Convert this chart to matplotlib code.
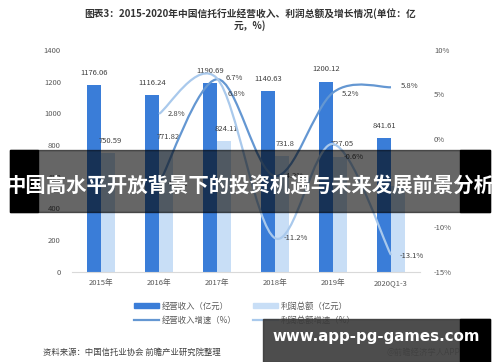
import matplotlib.pyplot as plt
import numpy as np
from matplotlib.path import Path
from matplotlib.patches import PathPatch, Rectangle
from matplotlib.lines import Line2D

plt.rcParams['font.family'] = ['Noto Sans CJK SC', 'DejaVu Sans']

years = ['2015年', '2016年', '2017年', '2018年', '2019年', '2020Q1-3']
revenue = [1176.06, 1116.24, 1190.69, 1140.63, 1200.12, 841.61]
profit = [750.59, 771.82, 824.11, 731.8, 727.05, 541.0]
rev_growth = [-5.1, 6.7, -4.2, 5.2, 5.8]
profit_growth = [2.8, 6.8, -11.2, -0.6, -13.1]

c_rev = '#3a7dd8'
c_pro = '#c8def6'
c_rev_line = '#6497d2'
c_pro_line = '#a9c9ec'
txt = '#404040'


def smooth_path(xs, ys):
    # excel-style smoothed line as bezier segments
    pts = np.column_stack([xs, ys])
    verts = [pts[0]]
    codes = [Path.MOVETO]
    n = len(pts)
    for i in range(n - 1):
        p0 = pts[i - 1] if i > 0 else pts[i]
        p1 = pts[i]
        p2 = pts[i + 1]
        p3 = pts[i + 2] if i + 2 < n else pts[i + 1]
        verts += [p1 + (p2 - p0) / 6, p2 - (p3 - p1) / 6, p2]
        codes += [Path.CURVE4] * 3
    return Path(verts, codes)


fig = plt.figure(figsize=(5, 3.62), dpi=100)
ax = fig.add_axes([0.144, 0.249, 0.696, 0.613])
ax2 = ax.twinx()

x = np.arange(len(years))
w = 0.24
ax.bar(x - w / 2, revenue, w, color=c_rev, zorder=2)
ax.bar(x + w / 2, profit, w, color=c_pro, zorder=2)
for i in range(len(years)):
    ax.annotate(f'{revenue[i]:g}', (x[i] - w / 2, revenue[i]), xytext=(0, 6),
                textcoords='offset points', ha='center', va='bottom', fontsize=5.5, color=txt)
    if i < 5:
        ax.annotate(f'{profit[i]:g}', (x[i] + w / 2, profit[i]), xytext=(2, 6),
                    textcoords='offset points', ha='center', va='bottom', fontsize=5.5, color=txt)

ax.set_xlim(-0.5, len(years) - 0.5)
ax.set_ylim(0, 1400)
ax.set_yticks(range(0, 1401, 200))
ax.set_xticks(x)
ax.set_xticklabels(years)
ax2.set_ylim(-15, 10)
ax2.set_yticks([-15, -10, -5, 0, 5, 10])
ax2.set_yticklabels([f'{v}%' for v in [-15, -10, -5, 0, 5, 10]])

gx = x[1:]
ax2.add_patch(PathPatch(smooth_path(gx, rev_growth), fill=False, ec=c_rev_line, lw=1.6, zorder=3))
ax2.add_patch(PathPatch(smooth_path(gx, profit_growth), fill=False, ec=c_pro_line, lw=1.6, zorder=3))

rev_off = [(6, 0), (6, 1), (6, 0), (6, -1), (7, 1)]
pro_off = [(6, 0), (8, -11), (6, 0), (8, -9), (6, -1)]
for i in range(5):
    ax2.annotate(f'{rev_growth[i]}%', (gx[i], rev_growth[i]), xytext=rev_off[i],
                 textcoords='offset points', ha='left', va='center', fontsize=5.5, color=txt)
    ax2.annotate(f'{profit_growth[i]}%', (gx[i], profit_growth[i]), xytext=pro_off[i],
                 textcoords='offset points', ha='left', va='center', fontsize=5.5, color=txt)

for a in (ax, ax2):
    for s in a.spines.values():
        s.set_visible(False)
    a.tick_params(length=0, labelsize=5.5, labelcolor='#595959')
ax.spines['bottom'].set_visible(True)
ax.spines['bottom'].set_color('#d9d9d9')
ax.tick_params(axis='y', pad=8)
ax.tick_params(axis='x', pad=5)
ax2.tick_params(axis='y', pad=10)

fig.text(0.5, 0.962, '图表3：2015-2020年中国信托行业经营收入、利润总额及增长情况(单位：亿',
         ha='center', va='center', fontsize=7, fontweight='bold', color='#333333')
fig.text(0.5, 0.928, '元，%)', ha='center', va='center', fontsize=7, fontweight='bold', color='#333333')

handles = [Rectangle((0, 0), 1, 1, color=c_rev),
           Line2D([], [], color=c_rev_line, lw=1.6),
           Rectangle((0, 0), 1, 1, color=c_pro),
           Line2D([], [], color=c_pro_line, lw=1.6)]
labels = ['经营收入（亿元）', '经营收入增速（%）', '利润总额（亿元）', '利润总额增速（%）']
fig.legend(handles, labels, ncol=2, loc='center', bbox_to_anchor=(0.49, 0.135), frameon=False,
           fontsize=6, labelcolor='#595959', handlelength=3, handleheight=0.6,
           columnspacing=2, labelspacing=0.6, handletextpad=0.3)

fig.text(0.086, 0.015, '资料来源：中国信托业协会 前瞻产业研究院整理', ha='left', va='bottom',
         fontsize=6, color='#404040')
fig.text(0.92, 0.015, '@前瞻经济学人APP', ha='right', va='bottom', fontsize=6, color='#808080')

# overlay banner
fig.patches.append(Rectangle((0.02, 1 - 212 / 362), 0.96, 62 / 362, transform=fig.transFigure,
                             color='black', alpha=0.6, zorder=10))
fig.patches.append(Rectangle((0.02, 1 - 212 / 362), 0.056, 62 / 362, transform=fig.transFigure,
                             color='black', zorder=10))
fig.patches.append(Rectangle((0.92, 1 - 212 / 362), 0.06, 62 / 362, transform=fig.transFigure,
                             color='black', zorder=10))
fig.text(0.5, 1 - 185 / 362, '中国高水平开放背景下的投资机遇与未来发展前景分析', ha='center', va='center',
         fontsize=14.7, fontweight='bold', color='white', zorder=11)

fig.patches.append(Rectangle((0.526, 0), 0.454, 43 / 362, transform=fig.transFigure,
                             color='#3a3a3a', alpha=0.9, zorder=10))
fig.patches.append(Rectangle((0.92, 0), 0.06, 43 / 362, transform=fig.transFigure,
                             color='black', zorder=10))
fig.text(0.753, 1 - 337 / 362, 'www.app-pg-games.com', ha='center', va='center',
         fontsize=10.8, fontweight='bold', color='white', zorder=11, family=['DejaVu Sans'])

fig.savefig('out.png', dpi=100)
